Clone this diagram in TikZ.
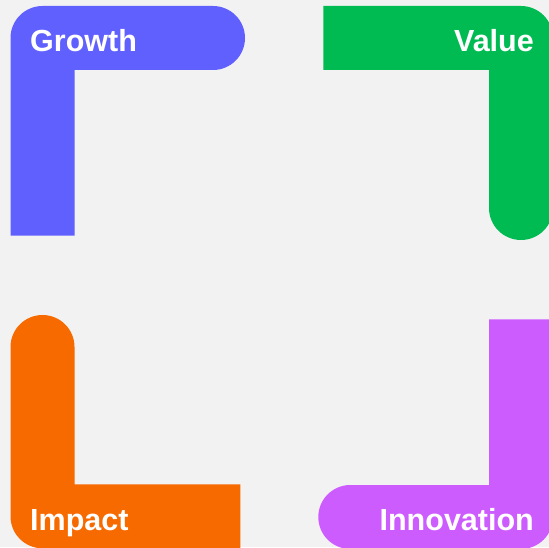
\documentclass[tikz,border=0pt]{standalone}
\usepackage{fontspec}
\setmainfont{Liberation Sans}
\definecolor{bgGray}{HTML}{F2F2F2}
\definecolor{growthBlue}{HTML}{6060FF}
\definecolor{valueGreen}{HTML}{00BB52}
\definecolor{impactOrange}{HTML}{F76A00}
\definecolor{innovPurple}{HTML}{CD5CFF}
\begin{document}
\begin{tikzpicture}[x=1pt,y=1pt,
  label/.style={text=white,font=\fontsize{30.5}{36}\selectfont\bfseries,inner sep=0pt}]
\useasboundingbox (0,0) rectangle (549,547);
\fill[bgGray] (0,0) rectangle (549,547);
\clip (0,0) rectangle (549,547);

% Growth: top-left bracket
\fill[growthBlue] (10.5,311.3) -- (10.5,509) arc[start angle=180,end angle=90,radius=32]
  -- (213,541) arc[start angle=90,end angle=-90,radius=32]
  -- (74.5,477) -- (74.5,311.3) -- cycle;

% Value: top-right bracket
\fill[valueGreen] (323.3,541) -- (521,541) arc[start angle=90,end angle=0,radius=32]
  -- (553,339) arc[start angle=0,end angle=-180,radius=32]
  -- (489,477) -- (323.3,477) -- cycle;

% Impact: bottom-left bracket
\fill[impactOrange] (240.3,62.7) -- (74.5,62.7) -- (74.5,200)
  arc[start angle=0,end angle=180,radius=32]
  -- (10.5,30.7) arc[start angle=180,end angle=270,radius=32]
  -- (240.3,-1.3) -- cycle;

% Innovation: bottom-right bracket
\fill[innovPurple] (489,227.7) -- (553,227.7) -- (553,30)
  arc[start angle=0,end angle=-90,radius=32]
  -- (350.3,-2) arc[start angle=270,end angle=90,radius=32]
  -- (489,62) -- cycle;

% Labels
\node[label,anchor=base west] (growth) at (30,495.3) {Growth};
\node[label,anchor=base east] (value) at (534,495.3) {Value};
\node[label,anchor=base west] (impact) at (30,17) {Impact};
\node[label,anchor=base east] (innovation) at (534,17) {Innovation};
\end{tikzpicture}
\end{document}
